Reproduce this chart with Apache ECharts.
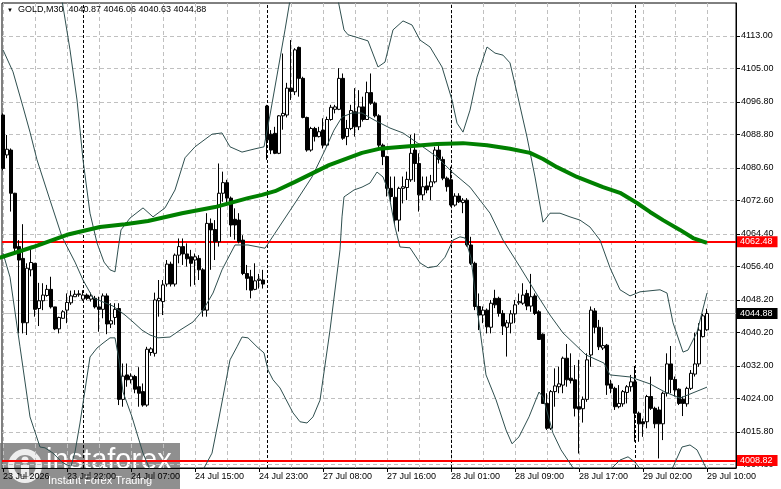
<!DOCTYPE html>
<html lang="en">
<head>
<meta charset="UTF-8" />
<title>GOLD,M30</title>
<script src="https://cdn.jsdelivr.net/npm/echarts@6.0.0/dist/echarts.min.js"></script>
<style>
  html, body { margin: 0; padding: 0; background: #fff; }
  #main { width: 781px; height: 489px; }
</style>
</head>
<body>
<div id="main"></div>
<script>
// bar index 0 = 23 Jul 14:00, one bar per 30 minutes (M30)
var opens = [
  4093.6, 4083.8, 4085.0, 4074.4, 4061.3, 4058.4, 4042.6, 4055.6, 4057.2, 4046.1,
  4048.0, 4049.3, 4050.8, 4046.5, 4041.1, 4043.7, 4045.7, 4047.5, 4049.0, 4049.5,
  4048.4, 4049.4, 4048.4, 4048.6, 4046.5, 4045.9, 4049.2, 4042.3, 4043.9, 4046.1,
  4023.8, 4029.8, 4028.6, 4029.4, 4026.9, 4025.7, 4022.4, 4035.3, 4035.1, 4048.0,
  4047.8, 4052.1, 4057.0, 4052.1, 4059.2, 4061.3, 4059.5, 4058.8, 4058.0, 4058.4,
  4055.6, 4045.7, 4067.0, 4065.5, 4062.5, 4074.4, 4077.0, 4073.2, 4068.0, 4067.8,
  4062.9, 4054.7, 4053.9, 4050.8, 4053.0, 4053.1, 4095.8, 4088.9, 4089.1, 4084.2,
  4093.4, 4093.6, 4100.2, 4099.3, 4110.2, 4102.6, 4093.0, 4085.0, 4090.3, 4088.3,
  4089.9, 4086.2, 4092.5, 4095.0, 4095.0, 4102.6, 4088.3, 4090.3, 4094.4, 4090.7,
  4095.6, 4092.5, 4099.1, 4096.5, 4093.4, 4086.2, 4083.4, 4075.6, 4073.4, 4067.8,
  4075.6, 4075.8, 4077.7, 4085.0, 4081.7, 4074.0, 4076.2, 4076.0, 4077.2, 4085.0,
  4082.7, 4078.1, 4077.7, 4071.5, 4073.7, 4072.1, 4072.7, 4061.7, 4057.2, 4046.6,
  4044.5, 4045.7, 4041.5, 4048.6, 4048.6, 4044.9, 4041.5, 4042.5, 4044.8, 4047.5,
  4047.4, 4049.8, 4046.7, 4049.2, 4045.3, 4039.8, 4022.8, 4016.7, 4025.7, 4026.9,
  4027.3, 4033.9, 4029.0, 4028.6, 4022.0, 4021.5, 4023.8, 4034.7, 4045.5, 4041.5,
  4036.4, 4037.1, 4027.6, 4026.5, 4022.0, 4022.7, 4025.5, 4026.9, 4028.1, 4020.4,
  4018.3, 4018.3, 4024.5, 4021.6, 4021.2, 4017.8, 4025.3, 4032.5, 4028.7, 4026.3,
  4023.8, 4022.7, 4026.5, 4030.0, 4032.5, 4039.2, 4040.87
];
var highs = [
  4094.0, 4088.7, 4085.4, 4074.5, 4062.9, 4066.8, 4057.2, 4061.3, 4057.2, 4052.4,
  4052.3, 4051.9, 4053.9, 4046.5, 4044.1, 4045.7, 4049.8, 4050.5, 4050.6, 4050.6,
  4050.6, 4049.8, 4050.0, 4049.2, 4049.0, 4049.8, 4049.8, 4047.4, 4047.4, 4047.4,
  4032.6, 4032.6, 4030.2, 4029.8, 4031.7, 4027.7, 4036.7, 4036.6, 4050.0, 4053.1,
  4053.1, 4058.0, 4057.6, 4059.6, 4063.3, 4063.3, 4062.1, 4060.5, 4059.6, 4059.2,
  4056.0, 4069.5, 4068.2, 4067.8, 4081.7, 4079.7, 4077.7, 4073.6, 4070.7, 4069.5,
  4064.1, 4056.8, 4055.6, 4057.2, 4054.6, 4055.6, 4096.1, 4089.9, 4090.7, 4093.6,
  4108.7, 4101.5, 4112.0, 4110.0, 4110.4, 4103.0, 4093.2, 4090.7, 4090.7, 4090.7,
  4092.8, 4093.2, 4096.1, 4096.1, 4105.1, 4103.8, 4092.4, 4096.1, 4100.2, 4099.7,
  4098.1, 4101.8, 4103.8, 4096.9, 4093.8, 4086.6, 4083.6, 4078.5, 4078.5, 4076.0,
  4078.5, 4079.7, 4088.7, 4089.1, 4084.2, 4078.5, 4078.5, 4078.9, 4085.8, 4086.2,
  4083.4, 4078.5, 4080.9, 4074.4, 4074.4, 4073.2, 4073.2, 4063.7, 4057.6, 4049.8,
  4046.6, 4046.1, 4048.2, 4050.7, 4049.0, 4045.7, 4043.3, 4045.7, 4048.2, 4049.8,
  4052.3, 4050.7, 4054.6, 4049.8, 4045.7, 4040.0, 4025.3, 4026.1, 4031.4, 4031.8,
  4034.3, 4037.4, 4035.1, 4032.2, 4033.5, 4024.5, 4035.1, 4046.6, 4046.2, 4043.3,
  4041.5, 4037.4, 4028.6, 4026.9, 4027.3, 4026.1, 4027.3, 4029.8, 4032.0, 4020.8,
  4019.1, 4024.9, 4029.4, 4022.0, 4022.0, 4025.7, 4035.1, 4036.9, 4029.4, 4026.5,
  4024.5, 4026.9, 4031.0, 4040.2, 4042.5, 4044.8, 4046.06
];
var lows = [
  4080.0, 4083.0, 4069.9, 4060.0, 4040.0, 4040.0, 4039.6, 4054.0, 4044.1, 4041.8,
  4045.7, 4049.0, 4046.1, 4040.8, 4040.0, 4043.6, 4042.5, 4047.0, 4049.0, 4049.0,
  4048.0, 4048.2, 4047.8, 4046.1, 4040.4, 4043.7, 4039.8, 4041.3, 4042.1, 4022.4,
  4022.0, 4026.9, 4027.7, 4025.3, 4022.0, 4022.0, 4022.0, 4034.5, 4034.3, 4044.1,
  4044.5, 4051.5, 4051.5, 4051.5, 4057.2, 4056.8, 4056.4, 4051.5, 4051.9, 4053.1,
  4044.1, 4044.1, 4055.6, 4058.0, 4061.3, 4072.3, 4072.0, 4063.7, 4063.0, 4062.1,
  4054.3, 4050.6, 4048.6, 4050.6, 4051.0, 4051.0, 4082.6, 4084.0, 4084.0, 4084.0,
  4090.0, 4093.0, 4097.3, 4098.5, 4098.1, 4092.8, 4084.6, 4084.6, 4087.1, 4088.1,
  4085.4, 4085.8, 4092.2, 4094.0, 4094.8, 4087.5, 4086.2, 4089.9, 4088.3, 4089.9,
  4092.0, 4092.4, 4096.1, 4093.0, 4085.0, 4081.3, 4073.6, 4072.3, 4066.6, 4065.0,
  4071.9, 4072.7, 4077.2, 4077.2, 4069.9, 4072.7, 4074.4, 4072.7, 4076.8, 4081.7,
  4077.6, 4074.8, 4071.1, 4071.1, 4072.0, 4069.5, 4061.3, 4056.8, 4045.7, 4040.8,
  4042.5, 4040.0, 4040.0, 4046.2, 4044.1, 4039.6, 4034.3, 4040.0, 4042.5, 4047.0,
  4047.0, 4045.7, 4045.3, 4044.5, 4038.4, 4022.8, 4016.3, 4016.3, 4022.0, 4025.3,
  4025.3, 4026.9, 4027.7, 4019.6, 4010.5, 4018.1, 4023.2, 4031.8, 4040.0, 4035.9,
  4035.9, 4024.9, 4025.3, 4021.2, 4021.6, 4022.0, 4022.8, 4025.7, 4013.4, 4013.4,
  4014.6, 4016.7, 4021.2, 4016.7, 4009.3, 4013.8, 4024.5, 4025.3, 4024.5, 4022.4,
  4019.7, 4022.0, 4026.1, 4029.4, 4031.8, 4039.0, 4040.63
];
var closes = [
  4080.5, 4085.2, 4074.4, 4060.9, 4058.0, 4042.6, 4056.0, 4057.4, 4045.9, 4048.0,
  4049.4, 4050.8, 4046.5, 4041.1, 4043.9, 4045.3, 4047.6, 4049.2, 4049.6, 4049.7,
  4049.4, 4048.6, 4049.2, 4046.5, 4045.9, 4049.2, 4042.3, 4043.1, 4045.9, 4023.8,
  4029.5, 4028.6, 4029.5, 4026.3, 4025.3, 4022.4, 4036.1, 4036.2, 4048.2, 4048.6,
  4051.9, 4057.0, 4052.1, 4059.2, 4061.3, 4059.5, 4058.3, 4057.2, 4058.8, 4055.6,
  4045.7, 4067.0, 4065.4, 4062.5, 4074.4, 4077.0, 4073.2, 4066.6, 4066.6, 4062.5,
  4054.7, 4053.5, 4050.6, 4052.9, 4053.3, 4052.1, 4087.5, 4085.0, 4084.2, 4093.4,
  4094.0, 4100.2, 4099.4, 4109.6, 4102.6, 4093.0, 4085.0, 4090.3, 4088.3, 4089.5,
  4086.2, 4092.5, 4095.5, 4095.6, 4102.6, 4087.9, 4090.3, 4094.7, 4090.7, 4095.6,
  4092.5, 4099.1, 4096.5, 4093.4, 4086.2, 4083.4, 4075.6, 4073.6, 4067.8, 4075.6,
  4076.0, 4077.8, 4084.2, 4081.7, 4074.0, 4076.0, 4075.2, 4077.2, 4085.0, 4082.7,
  4078.1, 4076.0, 4071.5, 4073.7, 4072.3, 4072.7, 4061.7, 4057.2, 4046.6, 4044.5,
  4045.7, 4041.6, 4047.4, 4047.0, 4044.9, 4041.8, 4042.6, 4044.8, 4047.0, 4047.8,
  4049.4, 4046.7, 4049.0, 4044.9, 4038.5, 4022.8, 4016.7, 4025.7, 4027.1, 4027.6,
  4033.9, 4028.6, 4028.4, 4021.6, 4021.4, 4023.8, 4033.5, 4045.7, 4041.5, 4036.7,
  4037.0, 4027.3, 4026.5, 4022.0, 4022.8, 4025.7, 4026.9, 4028.1, 4020.4, 4017.8,
  4017.8, 4024.5, 4021.6, 4017.8, 4017.8, 4025.3, 4032.5, 4028.7, 4026.1, 4022.8,
  4022.8, 4026.5, 4030.2, 4032.5, 4040.8, 4044.3, 4044.88
];

// indicator readings: [bar index, price]
var upperBand = [
  [0, 4151.3], [13, 4129.2], [14.75, 4121.8], [16.75, 4109.6], [18.5, 4097.3], [20, 4082.6],
  [21.75, 4069.5], [23.5, 4062.2], [25.25, 4057.5], [26.75, 4055.6], [28, 4055.1], [28.75, 4060.5],
  [29.5, 4065.4], [31.75, 4068.3], [35, 4070.8], [37.5, 4068.6], [40.5, 4070.8], [43, 4075.2],
  [45.5, 4083.1], [48, 4085.8], [52.25, 4088.9], [54.75, 4089.2], [56.75, 4085.8], [59.75, 4084.5],
  [63, 4085.3], [65.25, 4085.8], [66.75, 4093.6], [68.75, 4104.7], [70.5, 4114.5], [71.75, 4121.8],
  [74.25, 4128.0], [79.25, 4129.2], [83.5, 4123.1], [85.25, 4114.5], [86.25, 4113.3], [88, 4112.8],
  [91.25, 4111.8], [93.75, 4105.4], [95.5, 4106.6], [97.5, 4114.5], [100, 4116.7], [102.25, 4115.7],
  [104.25, 4112.0], [106.75, 4110.3], [109.75, 4105.4], [112.25, 4097.3], [113.5, 4091.6], [115, 4089.4],
  [116.75, 4094.8], [118.5, 4102.9], [121, 4110.3], [123, 4108.8], [125, 4108.3], [126.75, 4106.4],
  [128.5, 4099.0], [131, 4088.2], [133, 4078.4], [135, 4067.3], [136.75, 4069.5], [139.25, 4069.5],
  [141.75, 4068.6], [144.25, 4067.8], [146.75, 4066.1], [149.25, 4062.9], [151.75, 4056.1], [154.25, 4050.7],
  [156.75, 4049.2], [159.25, 4050.2], [164.25, 4050.7], [166, 4049.9], [167.5, 4042.6], [170, 4035.4],
  [171.25, 4035.9], [173.5, 4040.3], [176, 4049.9]
];
var middleBand = [
  [0, 4109.6], [2.5, 4104.2], [5, 4095.6], [6.75, 4089.4], [8.5, 4082.6], [11.75, 4072.7],
  [14.75, 4063.7], [18, 4057.5], [20, 4053.1], [22.5, 4048.7], [25, 4047.7], [27.5, 4046.7],
  [30.5, 4044.5], [32.5, 4042.8], [34.75, 4040.8], [36.75, 4039.6], [38.75, 4038.9], [41.75, 4039.1],
  [44.25, 4040.8], [47.5, 4042.8], [50, 4045.7], [52.5, 4049.9], [54.75, 4055.6], [58, 4061.7],
  [61.25, 4061.7], [65.5, 4060.9], [68, 4064.6], [73, 4072.0], [77.25, 4078.4], [80.5, 4085.0],
  [82.75, 4089.9], [84.75, 4093.1], [87.25, 4094.1], [89.75, 4094.1], [92.75, 4092.4], [96.75, 4090.4],
  [100, 4089.2], [104.25, 4086.3], [108.5, 4083.3], [112.5, 4079.4], [116.75, 4075.9], [119.25, 4072.7],
  [121.75, 4069.5], [125, 4062.9], [129.25, 4056.3], [133.25, 4049.9], [136.75, 4044.5], [140, 4040.1],
  [145.75, 4034.7], [150.25, 4032.7], [151.75, 4029.8], [156.75, 4029.3], [161.75, 4027.6], [165.5, 4025.6],
  [169.25, 4024.1], [173, 4025.6], [176, 4026.8]
];
var lowerBand = [
  [0, 4059.7], [1.75, 4053.8], [4.25, 4036.7], [6.75, 4019.5], [8, 4015.8], [9.25, 4012.1],
  [10.5, 4011.9], [12.5, 4010.6], [14.75, 4008.4], [16, 4007.7], [17, 4007.4], [18, 4010.9],
  [19.25, 4018.0], [20.5, 4026.1], [21.75, 4034.2], [23.5, 4036.4], [25, 4037.6], [26.75, 4038.9],
  [28, 4038.9], [29, 4033.5], [30, 4025.6], [31, 4022.9], [32.25, 4019.5], [33.75, 4014.6],
  [35, 4010.6], [36.75, 4006.5], [40.5, 4003.5], [45.5, 4002.8], [50, 4006.5], [52.25, 4010.6],
  [53.75, 4018.0], [55, 4024.4], [56.75, 4033.5], [58.5, 4036.7], [59.75, 4039.1], [61.25, 4038.9],
  [63.5, 4036.7], [65.25, 4035.2], [66.25, 4031.0], [67.5, 4028.6], [69.25, 4026.6], [72.5, 4020.5],
  [74.25, 4018.3], [76, 4018.0], [77.5, 4019.5], [79.25, 4023.6], [81.75, 4040.8], [84.25, 4060.5],
  [84.75, 4068.6], [85.25, 4073.5], [87.75, 4075.2], [89.75, 4075.9], [91.75, 4076.9], [93.5, 4079.6],
  [95, 4078.4], [96.25, 4075.2], [98, 4066.1], [99.25, 4061.2], [101.75, 4061.0], [104.25, 4057.3],
  [106.25, 4056.1], [108.5, 4056.5], [110.5, 4058.7], [112.5, 4062.9], [114.25, 4063.7], [115.5, 4063.4],
  [117, 4058.5], [118.25, 4048.2], [119.25, 4040.8], [120.75, 4029.8], [123.25, 4023.7], [125.75, 4016.3],
  [127.25, 4012.9], [129, 4014.6], [131.5, 4019.5], [134, 4025.6], [135, 4024.4], [137.5, 4015.5],
  [139.5, 4011.4], [142.5, 4007.0], [146.75, 4004.0], [150.5, 4006.0], [152.5, 4007.2], [154.25, 4008.9],
  [156.25, 4009.7], [158, 4008.4], [159.5, 4006.5], [163, 4003.5], [167.5, 4007.2], [169.75, 4012.1],
  [171.75, 4012.6], [173.5, 4011.4], [176, 4006.5]
];
var maLine = [
  [-1, 4058.5], [7.5, 4061.2], [16, 4064.2], [24.25, 4066.1], [30.5, 4066.8], [36.25, 4067.6],
  [44.75, 4069.5], [53, 4071.0], [61.25, 4073.2], [64.75, 4074.0], [68, 4074.9], [73, 4077.2],
  [81.5, 4081.3], [89.75, 4084.3], [94, 4085.3], [100, 4085.8], [108.5, 4086.5], [115, 4086.7],
  [121, 4086.2], [126.75, 4085.3], [131.75, 4084.3], [135, 4082.8], [138.5, 4080.8], [143.5, 4078.4],
  [150, 4075.9], [154.25, 4074.5], [158.5, 4072.0], [161.75, 4069.8], [165, 4067.8], [169.25, 4065.4],
  [172.5, 4063.4], [176, 4062.2]
];

var priceTicks = [4007.8, 4015.8, 4024.0, 4032.0, 4040.2, 4048.2, 4056.4,
                  4064.4, 4072.6, 4080.6, 4088.8, 4096.8, 4105.0, 4113.0];
var timeTickIdx = [0, 16, 32, 48, 64, 80, 96, 112, 128, 144, 160, 176];
var timeLabels = ["23 Jul 2026", "23 Jul 22:00", "24 Jul 07:00", "24 Jul 15:00",
                  "24 Jul 23:00", "27 Jul 08:00", "27 Jul 16:00", "28 Jul 01:00",
                  "28 Jul 09:00", "28 Jul 17:00", "29 Jul 02:00", "29 Jul 10:00"];
var gridIdx = [0, 8, 16, 24, 32, 40, 48, 56, 64, 72, 80, 88, 96, 104, 112,
               120, 128, 136, 144, 152, 160, 168, 176];
var daySeparators = [20, 66, 112, 158];
var redLevels = [4062.48, 4008.82];
var lastPrice = 4044.88;

var FONT = '"Liberation Sans", Arial, sans-serif';
var X_MIN = -0.25, X_MAX = 183.25;
var Y_MIN = 4006.95, Y_MAX = 4121.1;

var candleData = opens.map(function (o, i) {
  return [i, o, closes[i], lows[i], highs[i]];
});

var last = opens.length - 1;
var titleText = 'GOLD,M30  ' + opens[last].toFixed(2) + ' ' + highs[last].toFixed(2) +
  ' ' + lows[last].toFixed(2) + ' ' + closes[last].toFixed(2);

var levelLabel = {
  show: true,
  position: 'end',
  distance: 1,
  formatter: function (p) { return p.value.toFixed(2); },
  color: '#fff',
  backgroundColor: '#ff0000',
  padding: [1, 5, 1, 3],
  fontSize: 9,
  fontFamily: FONT
};

var markData = [];
daySeparators.forEach(function (d) {
  markData.push({
    xAxis: d,
    label: { show: false },
    lineStyle: { color: '#000', width: 1, type: [3, 2] }
  });
});
markData.push({
  yAxis: lastPrice,
  lineStyle: { color: '#c0c0c0', width: 1, type: 'solid' },
  label: Object.assign({}, levelLabel, { backgroundColor: '#000' })
});
redLevels.forEach(function (v) {
  markData.push({
    yAxis: v,
    lineStyle: { color: '#ff0000', width: 2, type: 'solid' },
    label: levelLabel
  });
});

var chartDom = document.getElementById('main');
var myChart = echarts.init(chartDom, null, { renderer: 'canvas' });

var option = {
  animation: false,
  backgroundColor: '#fff',
  grid: { left: 2, right: 45, top: 3, bottom: 21, show: true, borderColor: '#000', borderWidth: 1 },
  xAxis: [
    {
      type: 'value', min: X_MIN, max: X_MAX,
      axisLine: { show: true, onZero: false, lineStyle: { color: '#000' } },
      axisTick: { show: false, customValues: gridIdx },
      axisLabel: { show: false },
      splitLine: { show: true, lineStyle: { color: '#c0c0c0', width: 1, type: [4, 3] } }
    },
    {
      type: 'value', position: 'bottom', min: X_MIN, max: X_MAX,
      axisLine: { show: false, onZero: false },
      axisTick: { show: true, customValues: timeTickIdx, length: 4, lineStyle: { color: '#000' } },
      axisLabel: {
        customValues: timeTickIdx,
        formatter: function (v) {
          var k = timeTickIdx.indexOf(Math.round(v));
          return k >= 0 ? timeLabels[k] : '';
        },
        align: 'left', margin: 4, color: '#000', fontSize: 9, fontFamily: FONT
      },
      splitLine: { show: false }
    }
  ],
  yAxis: {
    type: 'value', position: 'right', min: Y_MIN, max: Y_MAX,
    axisLine: { show: true, onZero: false, lineStyle: { color: '#000' } },
    axisTick: { show: true, customValues: priceTicks, length: 4, lineStyle: { color: '#000' } },
    axisLabel: {
      customValues: priceTicks,
      formatter: function (v) { return v.toFixed(2); },
      margin: 5, color: '#000', fontSize: 9, fontFamily: FONT
    },
    splitLine: { show: true, lineStyle: { color: '#c0c0c0', width: 1, type: [4, 3] } }
  },
  graphic: [
    { type: 'text', x: 7, y: 7, z: 50, style: { text: '\u25BC', fontSize: 6, fill: '#000' } },
    { type: 'text', x: 18, y: 5, z: 50, style: { text: titleText, fontSize: 9, fontFamily: FONT, fill: '#000' } },
    {
      type: 'group', x: 0, y: 443, z: 100,
      children: [
        { type: 'rect', shape: { x: 0, y: 0, width: 180, height: 46 }, style: { fill: 'rgba(112,112,112,0.78)' } },
        { type: 'ring', shape: { cx: 25, cy: 23, r: 17, r0: 11 }, style: { fill: 'rgba(255,255,255,0.85)' } },
        { type: 'circle', shape: { cx: 25, cy: 17, r: 3.5 }, style: { fill: 'rgba(255,255,255,0.85)' } },
        { type: 'rect', shape: { x: 21, y: 22, width: 8, height: 11 }, style: { fill: 'rgba(255,255,255,0.85)' } },
        { type: 'text', x: 46, y: 3, style: { text: 'instaforex', fontSize: 29, fontFamily: FONT, fill: '#fff' } },
        { type: 'text', x: 48, y: 32, style: { text: 'Instant Forex Trading', fontSize: 11, fontFamily: FONT, fill: '#fff' } }
      ]
    }
  ],
  series: [
    {
      name: 'GOLD',
      type: 'candlestick',
      xAxisIndex: 0,
      yAxisIndex: 0,
      barWidth: 3,
      z: 3,
      data: candleData,
      itemStyle: { color: '#fff', color0: '#000', borderColor: '#000', borderColor0: '#000', borderWidth: 1 },
      markLine: { silent: true, z: 1, symbol: 'none', precision: 2, data: markData }
    },
    {
      name: 'BB upper', type: 'line', data: upperBand, showSymbol: false, symbol: 'none', z: 4, silent: true,
      lineStyle: { color: '#2f4f4f', width: 1 }
    },
    {
      name: 'BB middle', type: 'line', data: middleBand, showSymbol: false, symbol: 'none', z: 4, silent: true,
      lineStyle: { color: '#2f4f4f', width: 1 }
    },
    {
      name: 'BB lower', type: 'line', data: lowerBand, showSymbol: false, symbol: 'none', z: 4, silent: true,
      lineStyle: { color: '#2f4f4f', width: 1 }
    },
    {
      name: 'MA', type: 'line', data: maLine, showSymbol: false, symbol: 'none', z: 5, silent: true,
      lineStyle: { color: '#008000', width: 4 }
    }
  ]
};

myChart.setOption(option);
</script>
</body>
</html>
